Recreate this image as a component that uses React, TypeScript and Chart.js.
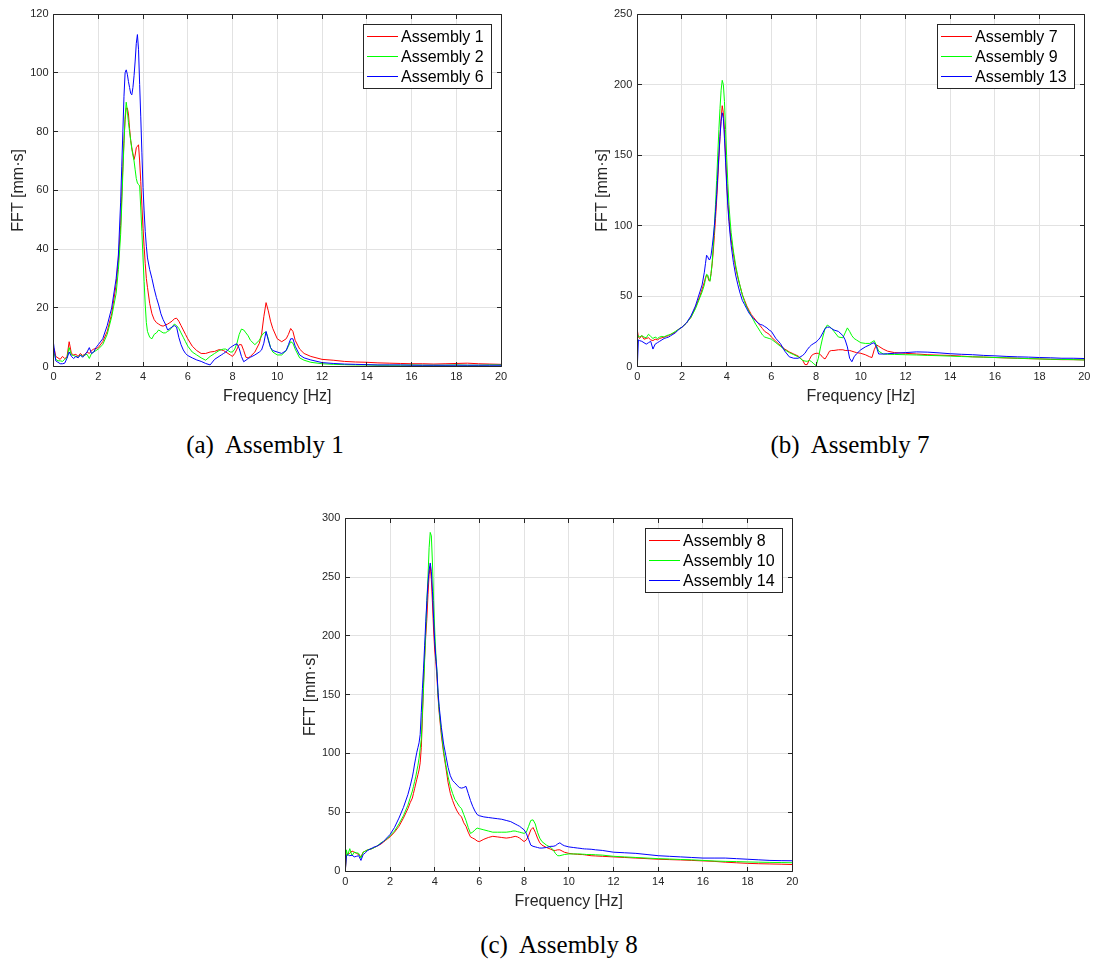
import React, { useEffect, useRef } from "react";
import { Chart, registerables } from "chart.js";

Chart.register(...registerables);

// ---------- DATA ----------
const frequency = [
  0, 0.05, 0.1, 0.2, 0.3, 0.4, 0.5, 0.6, 0.7, 0.8, 0.9, 1.0, 1.1, 1.2, 1.3, 1.4, 1.5, 1.6, 1.7, 1.8, 1.9, 2.0,
  2.2, 2.4, 2.6, 2.8, 2.9,
  3.0, 3.05, 3.1, 3.15, 3.2, 3.25, 3.3, 3.35, 3.4, 3.45, 3.5, 3.55, 3.6, 3.65, 3.7, 3.75, 3.8, 3.85, 3.9, 3.95, 4.0, 4.05, 4.1, 4.15, 4.2,
  4.3, 4.4, 4.5, 4.6, 4.7, 4.8, 4.9, 5.0, 5.1, 5.2, 5.3, 5.4, 5.5, 5.6, 5.7, 5.8, 5.9, 6.0,
  6.2, 6.4, 6.6, 6.8, 7.0, 7.2, 7.4,
  7.5, 7.6, 7.7, 7.8, 7.9, 8.0, 8.1, 8.2, 8.3, 8.4, 8.5, 8.6, 8.7, 8.8,
  9.0, 9.2, 9.3, 9.4, 9.5, 9.6, 9.7, 9.8, 10.0, 10.2, 10.4, 10.5, 10.6, 10.7, 10.8, 11.0,
  11.2, 11.5, 12, 12.5, 13, 13.5, 14, 14.5, 15, 15.5, 16, 16.5, 17, 17.5, 18, 18.5, 19, 19.5, 20,
];

// (a)
const assembly1 = [
  6.5, 5.5, 3.5, 3, 2.5, 3.5, 2.8, 3.2, 8.5, 4.5, 4, 4.2, 3.5, 4.5, 3.8, 4.2, 5, 4.5, 5.5, 6, 6.2, 6.5,
  8.5, 12, 18, 28, 36,
  48, 58, 68, 77, 84, 88, 88, 86, 81, 77, 74.5, 72.5, 70.5, 72, 74.5, 75, 75.5, 70, 63, 55, 47, 41, 35, 30, 27,
  21.5, 18, 16, 15, 14.5, 14, 13.8, 14.2, 14.5, 15, 15.5, 16.3, 16.5, 15.5, 14, 12.5, 11, 9.5,
  7, 5.5, 4.5, 4.5, 5, 5.2, 5.8,
  5.7, 5.5, 5, 4.5, 4, 3.5, 4.5, 6, 7.5, 7.5, 5.5, 3.2, 3, 3.5,
  5, 8, 11, 17, 21.8, 19, 15.5, 13, 9.5, 8.5, 9.5, 11, 13, 12, 9, 6,
  4.5, 3.5, 2.5, 2.2, 1.8, 1.6, 1.5, 1.3, 1.2, 1.1, 1.0, 1.0, 0.9, 1.0, 1.1, 1.2, 1.0, 0.9, 0.8,
];
const assembly2 = [
  5, 4, 2.5, 2, 2, 1.8, 2.5, 3, 6.5, 4, 3.8, 3.5, 3.2, 4, 3.5, 4, 4.2, 2.8, 4.5, 5, 5.5, 6,
  7.5, 11, 17, 25, 33,
  45, 55, 66, 76, 85, 90, 87, 83, 80, 77, 74, 72, 70, 67, 64, 62.5, 62, 61.5, 54, 46, 37, 29, 21, 15, 12,
  10, 9.5, 11, 11.5, 12.5, 12, 11.5, 11.5, 12, 12.5, 13.5, 14.5, 14, 13, 11.5, 10, 8.5, 7,
  5, 4, 3, 2.2, 3.5, 4.5, 5.5,
  5.8, 6, 6, 5.5, 5, 5, 6, 8, 11, 12.8, 12.5, 11.5, 10.5, 9,
  7.5, 9, 10.5, 11.5, 11.8, 9.5, 6.5, 5, 4, 4, 5.5, 7, 8.5, 8, 6, 3,
  2.2, 1.5, 1, 0.8, 0.7, 0.6, 0.6, 0.5, 0.5, 0.5, 0.6, 0.5, 0.5, 0.5, 0.6, 0.5, 0.5, 0.6, 0.6,
];
const assembly6 = [
  8, 5, 2, 1.5, 1, 1, 1.2, 2.8, 5, 3.5, 2.8, 3.5, 3, 4, 3.2, 4, 5, 6.5, 4.5, 5, 6.5, 7.5,
  9.5, 14, 20, 30, 38,
  56, 68, 80, 92, 100, 101, 99.5, 97, 95, 93, 92.5, 95, 99, 104, 110, 113, 108, 96, 85, 73, 61, 53, 46, 41, 37,
  33, 30, 26.5, 23.5, 21, 18, 16, 14.5, 12.5, 13, 13.5, 14, 13.5, 10, 7.5, 5.7, 4.5, 3.8,
  3, 2.3, 1.8, 1.1, 0.6, 2.5, 3.5,
  4, 4.5, 5, 5.8, 6.5, 7, 7.5, 7.8, 6.2, 3.5, 1.7, 2.2, 2.8, 3.2,
  4, 5, 5.7, 8, 12, 9, 6.5, 5.5, 5, 4.5, 5.5, 7.5, 9.5, 9.5, 7, 4,
  3, 2.3, 1.4, 1.1, 0.9, 0.8, 0.7, 0.6, 0.6, 0.6, 0.5, 0.5, 0.5, 0.5, 0.5, 0.5, 0.5, 0.5, 0.5,
];

// (b)
const assembly7 = [
  26, 21, 20, 22, 19.5, 20, 20.5, 19, 18.5, 19.5, 19, 20, 20.5, 21, 21.5, 22, 23, 23.5, 24.5, 26, 27, 28,
  31, 35, 42, 50, 55,
  60, 63, 65, 64, 61, 61, 66, 73, 82, 93, 105, 118, 132, 148, 163, 176, 185, 180, 168, 150, 132, 117, 106, 97, 90,
  80, 70, 63, 57, 51, 47, 43, 40, 37, 35, 33, 31, 29, 27, 25, 24, 23, 21,
  18, 15, 12.5, 10.5, 9, 7.5, 4.5,
  1.5, 1.5, 5, 8, 9, 9.5, 9.5, 8.5, 6.5, 5.5, 8, 11, 11.5, 11.5,
  12, 12, 11.5, 11.5, 11.5, 11, 10.5, 10, 9.5, 8.5, 7, 6.5, 12, 15.5, 14.5, 12.5,
  11, 10, 9.5, 9, 8.5, 8.2, 8, 7.5, 7, 6.8, 6.5, 6.2, 6, 5.7, 5.5, 5.2, 5, 5, 4.8,
];
const assembly9 = [
  20, 22, 21, 22, 21, 20.5, 23, 21.5, 20, 21, 20, 21, 21.5, 21, 22, 22.5, 23, 24, 25, 26, 27, 28,
  31, 35, 41, 49, 53,
  58, 62, 65.5, 65, 62, 60.5, 66, 74, 86, 100, 115, 132, 150, 168, 183, 196, 203, 200, 188, 168, 148, 130, 115, 104, 95,
  82, 72, 64, 57, 51, 46, 42, 39, 36, 33, 30, 27.5, 25, 22.5, 21, 20.5, 20, 19.5,
  17, 14.5, 12, 10, 8.5, 7, 4.5,
  4, 3.8, 4.5, 3.5, 2, 0.8, 6, 14, 21, 27, 29.5, 28.5, 27, 25,
  21, 20.5, 24, 27.5, 25, 22, 20, 19, 17, 16.5, 16.5, 17.5, 18.5, 15, 11, 9,
  8.8, 8.7, 8.5, 8.3, 8, 7.8, 7.5, 7.2, 7, 6.8, 6.5, 6.3, 6, 5.8, 5.5, 5.3, 5.2, 5, 4.8,
];
const assembly13 = [
  0, 19, 18.5, 18, 17, 16, 17, 18, 12.5, 16, 17, 18, 19, 20, 20.5, 21, 22, 23, 24, 25.5, 27, 28,
  31, 36, 43, 53, 58,
  67, 73, 79, 78, 76, 76, 79, 85, 92, 100, 110, 122, 136, 150, 163, 174, 180, 176, 162, 145, 128, 114, 103, 94, 86,
  74, 65, 58, 52, 47, 44, 41, 38, 36, 34, 32.5, 31, 30, 29.5, 28.5, 27.5, 26, 25,
  20, 16.5, 11, 7, 6, 6, 8,
  9.5, 12, 14, 15.5, 16.5, 17.5, 19, 21, 24, 27, 28, 28, 27, 26,
  25, 22, 19, 14, 6, 3.5, 7, 9, 12, 14, 15.5, 16.5, 17, 14, 9, 9,
  9.2, 9.5, 10, 10.5, 10.3, 9.8, 9.2, 8.8, 8.5, 8, 7.7, 7.3, 7, 6.8, 6.5, 6.3, 6, 6, 5.8,
];

// (c)
const assembly8 = [
  0, 14, 14.5, 15, 17, 16, 15, 14, 12, 16, 17, 18, 18.5, 19, 20, 21, 22, 23, 24.5, 26, 27.5, 29,
  33, 38, 45, 53, 58,
  62, 66, 70, 74, 78, 82, 86, 92, 105, 130, 160, 182, 200, 215, 235, 252, 259, 248, 228, 205, 188, 178, 165, 148, 135,
  115, 100, 88, 75, 66, 60, 55, 51, 48, 46, 41, 38, 33, 29, 28, 27, 25.5, 25,
  27, 28.5, 29.5, 29, 28.5, 28, 28.5,
  29, 29.5, 29, 28, 26.5, 25, 26.5, 30, 35, 37, 33, 28, 24, 22,
  20, 18.5, 17.5, 17.5, 18, 18, 17, 16, 15, 14.5, 14.2, 14, 14, 13.8, 13.5, 13,
  12.8, 12.5, 12, 11.5, 11, 10.5, 10, 9.7, 9.4, 9, 8.6, 8.2, 7.5, 7, 6.5, 6.2, 6, 5.8, 5.5,
];
const assembly10 = [
  0, 18, 13, 19, 13, 16, 15.5, 15, 11, 16, 17, 18, 18.5, 19, 20, 21, 22.5, 24, 25, 26.5, 28, 30,
  34, 40, 47, 56, 62,
  68, 72, 76, 80, 85, 90, 96, 104, 112, 135, 155, 180, 205, 230, 250, 275, 288, 285, 262, 230, 205, 185, 170, 150, 137,
  118, 102, 90, 80, 72, 66, 61, 58, 55, 53, 48, 43, 37, 32, 33, 35, 36.5, 36,
  35, 34, 33, 33, 33, 33, 33.5,
  34, 34, 33.5, 33, 32.5, 32, 33, 38, 43, 43.5, 40, 33, 28, 25,
  22, 20, 18, 15, 13, 13, 13.5, 14, 14.5, 14.5, 14.5, 14.5, 14.3, 14.2, 14, 14,
  13.8, 13.5, 12.5, 12, 11.5, 11, 10.5, 10.2, 9.8, 9.5, 9, 8.5, 8.2, 8, 7.7, 7.5, 7.3, 7.2, 7,
];
const assembly14 = [
  0, 13, 14, 13, 13.5, 12, 12.5, 13, 9, 14, 15.5, 17.5, 18.5, 19.5, 20.5, 21, 22, 23.5, 25, 27, 29, 31,
  37, 45, 54, 65, 72,
  80, 85, 91, 96, 101, 105, 109, 116, 135, 155, 172, 192, 212, 230, 245, 256, 262, 255, 238, 215, 195, 182, 170, 152, 140,
  122, 108, 98, 88, 81, 77, 75, 73, 71, 70.5, 71, 72, 66, 60, 55, 51, 48, 47,
  46, 45.5, 45, 44.5, 44, 43, 42,
  41, 40, 39, 38, 36.5, 35, 32, 27, 22, 21, 20.5, 20, 19.5, 19.5,
  20, 21, 21, 21.5, 23, 24, 22.5, 21.5, 20.5, 20, 19.5, 19.3, 19, 18.8, 18.7, 18.5,
  18, 17.5, 16, 15.5, 15, 14, 13, 12.5, 12, 11.5, 11, 11, 11, 10.5, 10, 9.5, 9, 8.8, 8.7,
];

const xTickStep = 2;
const xMax = 20;
const xLabel = "Frequency [Hz]";
const yLabel = "FFT [mm·s]";

// ---------- STYLE ----------
const SANS = "'Liberation Sans', Arial, Helvetica, sans-serif";
const SERIF = "'Liberation Serif', 'Times New Roman', serif";
const AXIS = "#262626";
const GRID = "#e2e2e2";
const RED = "#ff0000";
const GREEN = "#00ff00";
const BLUE = "#0000ff";

type Series = { label: string; color: string; values: number[] };
type Box = { left: number; top: number; w: number; h: number };
type Area = { l: number; t: number; r: number; b: number };

function makeFramePlugin(items: Series[]) {
  return {
    id: "frameLegend",
    afterDatasetsDraw(chart: any) {
      const { ctx, chartArea: a, scales } = chart;
      const px = (v: number) => Math.floor(v) + 0.5;
      const L = px(a.left), R = px(a.right), T = px(a.top), B = px(a.bottom);
      const tl = 4.5;
      ctx.save();
      ctx.strokeStyle = AXIS;
      ctx.lineWidth = 1;
      ctx.beginPath();
      ctx.rect(L, T, R - L, B - T);
      scales.x.ticks.forEach((t: any) => {
        const x = px(scales.x.getPixelForValue(t.value));
        ctx.moveTo(x, B); ctx.lineTo(x, B - tl);
        ctx.moveTo(x, T); ctx.lineTo(x, T + tl);
      });
      scales.y.ticks.forEach((t: any) => {
        const y = px(scales.y.getPixelForValue(t.value));
        ctx.moveTo(L, y); ctx.lineTo(L + tl, y);
        ctx.moveTo(R, y); ctx.lineTo(R - tl, y);
      });
      ctx.stroke();
      ctx.restore();
    },
    afterDraw(chart: any) {
      const { ctx, chartArea: a } = chart;
      ctx.save();
      ctx.font = `16px ${SANS}`;
      const widths = items.map((d) => ctx.measureText(d.label).width);
      const boxW = Math.round(38 + Math.max(...widths) + 7);
      const boxH = 64;
      const x0 = Math.round(a.right - 10 - boxW);
      const y0 = Math.round(a.top + 10);
      ctx.fillStyle = "#ffffff";
      ctx.fillRect(x0, y0, boxW, boxH);
      ctx.strokeStyle = AXIS;
      ctx.lineWidth = 1;
      ctx.strokeRect(x0 + 0.5, y0 + 0.5, boxW, boxH);
      items.forEach((d, i) => {
        const ly = y0 + 12 + 20 * i;
        ctx.fillStyle = d.color;
        ctx.fillRect(x0 + 4, ly, 31, 1);
        ctx.fillStyle = "#000000";
        ctx.textAlign = "left";
        ctx.textBaseline = "alphabetic";
        ctx.fillText(d.label, x0 + 38, y0 + 18 + 20 * i);
      });
      ctx.restore();
    },
  };
}

function FFTPanel(props: { box: Box; area: Area; yMax: number; yStep: number; series: Series[] }) {
  const ref = useRef<HTMLCanvasElement | null>(null);
  const { box, area, yMax, yStep, series } = props;

  useEffect(() => {
    if (!ref.current) return;
    const padTop = area.t - box.top;
    const padRight = box.left + box.w - area.r;
    const yAxisW = area.l - box.left;
    const xAxisH = box.top + box.h - area.b;
    const xTitleCenter = area.b - box.top + 30.3;
    const xTitlePadBottom = box.h - xTitleCenter - 9.6;
    const yTitleCenter = area.l - box.left - 34.5;
    const yTitlePadTop = yTitleCenter - 9.6;

    const datasets = series.map((s, i) => ({
      label: s.label,
      data: frequency.map((f, k) => ({ x: f, y: s.values[k] })),
      borderColor: s.color,
      backgroundColor: s.color,
      borderWidth: 1,
      pointRadius: 0,
      fill: false,
      tension: 0,
      order: series.length - i,
    }));

    const chart = new Chart(ref.current, {
      type: "line",
      data: { datasets },
      plugins: [makeFramePlugin(series)],
      options: {
        responsive: false,
        animation: false,
        events: [],
        layout: { padding: { left: 0, top: padTop, right: padRight, bottom: 0 } },
        plugins: { legend: { display: false }, tooltip: { enabled: false } },
        scales: {
          x: {
            type: "linear",
            min: 0,
            max: xMax,
            ticks: { stepSize: xTickStep, font: { family: SANS, size: 11 }, color: AXIS, padding: 4, maxRotation: 0, autoSkip: false },
            grid: { color: GRID, drawTicks: false, lineWidth: 1 },
            border: { display: false },
            title: { display: true, text: xLabel, font: { family: SANS, size: 16 }, color: AXIS, padding: { top: 0, bottom: xTitlePadBottom } },
            afterFit: (s: any) => { s.height = xAxisH; },
          },
          y: {
            type: "linear",
            min: 0,
            max: yMax,
            ticks: { stepSize: yStep, font: { family: SANS, size: 11 }, color: AXIS, padding: 5 },
            grid: { color: GRID, drawTicks: false, lineWidth: 1 },
            border: { display: false },
            title: { display: true, text: yLabel, font: { family: SANS, size: 16 }, color: AXIS, padding: { top: yTitlePadTop, bottom: 0 } },
            afterFit: (s: any) => { s.width = yAxisW; },
          },
        },
      } as any,
    });
    return () => chart.destroy();
  }, []);

  return (
    <canvas
      ref={ref}
      width={box.w}
      height={box.h}
      style={{ position: "absolute", left: box.left, top: box.top, width: box.w, height: box.h }}
    />
  );
}

function Caption(props: { cx: number; top: number; text: string }) {
  return (
    <div
      style={{
        position: "absolute",
        left: props.cx - 200,
        top: props.top,
        width: 400,
        textAlign: "center",
        fontFamily: SERIF,
        fontSize: 25,
        lineHeight: "25px",
        whiteSpace: "pre",
        color: "#000",
      }}
    >
      {props.text}
    </div>
  );
}

export default function App() {
  return (
    <div style={{ position: "absolute", left: 0, top: 0, width: 1095, height: 965, background: "#fff", overflow: "hidden" }}>
      <FFTPanel
        box={{ left: 0, top: 0, w: 520, h: 420 }}
        area={{ l: 53.5, t: 14, r: 501, b: 366.7 }}
        yMax={120}
        yStep={20}
        series={[
          { label: "Assembly 1", color: RED, values: assembly1 },
          { label: "Assembly 2", color: GREEN, values: assembly2 },
          { label: "Assembly 6", color: BLUE, values: assembly6 },
        ]}
      />
      <FFTPanel
        box={{ left: 575, top: 0, w: 520, h: 420 }}
        area={{ l: 637.3, t: 14, r: 1084.3, b: 366.7 }}
        yMax={250}
        yStep={50}
        series={[
          { label: "Assembly 7", color: RED, values: assembly7 },
          { label: "Assembly 9", color: GREEN, values: assembly9 },
          { label: "Assembly 13", color: BLUE, values: assembly13 },
        ]}
      />
      <FFTPanel
        box={{ left: 290, top: 485, w: 520, h: 445 }}
        area={{ l: 345.3, t: 518.3, r: 792.3, b: 871 }}
        yMax={300}
        yStep={50}
        series={[
          { label: "Assembly 8", color: RED, values: assembly8 },
          { label: "Assembly 10", color: GREEN, values: assembly10 },
          { label: "Assembly 14", color: BLUE, values: assembly14 },
        ]}
      />
      <Caption cx={265} top={431.6} text={"(a)  Assembly 1"} />
      <Caption cx={850} top={431.6} text={"(b)  Assembly 7"} />
      <Caption cx={559} top={931.6} text={"(c)  Assembly 8"} />
    </div>
  );
}
